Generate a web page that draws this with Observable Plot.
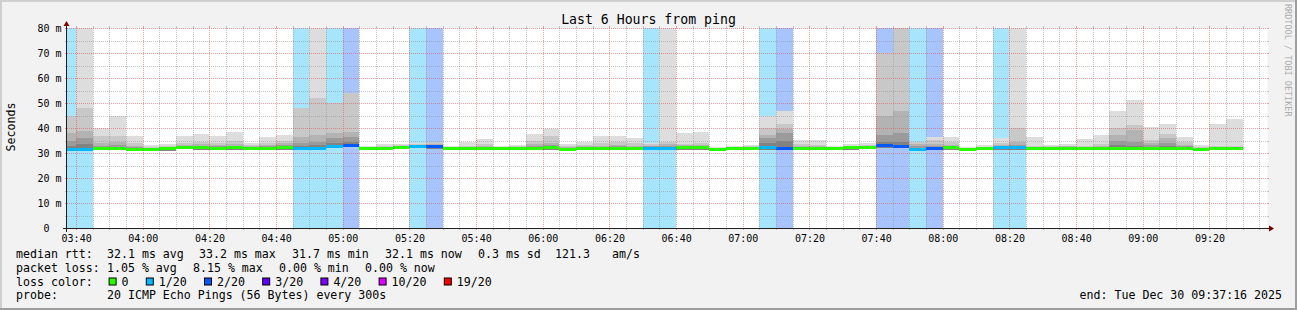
<!DOCTYPE html>
<html><head><meta charset="utf-8">
<script src="https://cdn.jsdelivr.net/npm/d3@7"></script>
<script src="https://cdn.jsdelivr.net/npm/@observablehq/plot@0.6"></script>
<style>
html,body{margin:0;padding:0;background:#f2f2f2;}
#wrap{position:relative;width:1297px;height:310px;background:#f2f2f2;overflow:hidden;}
#wrap svg{position:absolute;left:0;top:0;}
</style></head><body>
<div id="wrap"></div>
<script>
// ---------- data ----------
const barEnd = ["03:40","03:45","03:50","03:55","04:00","04:05","04:10","04:15","04:20","04:25","04:30","04:35","04:40","04:45","04:50","04:55","05:00","05:05","05:10","05:15","05:20","05:25","05:30","05:35","05:40","05:45","05:50","05:55","06:00","06:05","06:10","06:15","06:20","06:25","06:30","06:35","06:40","06:45","06:50","06:55","07:00","07:05","07:10","07:15","07:20","07:25","07:30","07:35","07:40","07:45","07:50","07:55","08:00","08:05","08:10","08:15","08:20","08:25","08:30","08:35","08:40","08:45","08:50","08:55","09:00","09:05","09:10","09:15","09:20","09:25","09:30"];
const median = [31.7,31.8,32.0,32.1,31.8,31.7,31.9,32.4,32.3,32.2,32.3,32.2,32.2,32.3,32.0,32.0,32.8,33.2,32.0,32.1,32.5,32.8,32.7,32.0,32.0,32.1,32.0,32.0,32.2,32.3,31.8,32.0,32.1,32.1,32.0,32.2,32.2,32.3,32.3,31.7,32.0,32.1,32.3,32.1,32.2,32.2,32.1,32.3,32.6,33.1,32.9,31.7,32.2,32.3,31.8,32.0,32.3,32.3,32.0,32.2,32.2,32.1,32.1,32.1,32.1,32.1,32.1,32.1,31.8,32.1,32.1];
const loss = [1,1,0,0,0,0,0,0,0,0,0,0,0,0,1,1,1,2,0,0,0,1,2,0,0,0,0,0,0,0,0,0,0,0,0,1,1,0,0,0,0,0,1,2,0,0,0,0,0,2,2,1,2,0,0,0,1,1,0,0,0,0,0,0,0,0,0,0,0,0,0];
const smokeLow = [30.8,30.9,31.1,31.2,30.9,30.8,31.0,31.5,31.4,31.3,31.4,31.3,31.3,31.4,31.1,31.1,31.9,32.3,31.1,31.2,31.6,31.9,31.8,31.1,31.1,31.2,31.1,31.1,31.3,31.4,30.9,31.1,31.2,31.2,31.1,31.3,31.3,31.4,31.4,30.8,31.1,31.2,31.4,31.2,31.3,31.3,31.2,31.4,31.7,32.2,32.0,30.8,31.3,31.4,30.9,31.1,31.4,31.4,31.1,31.3,31.3,31.2,31.2,31.2,31.2,31.2,31.2,31.2,30.8,31.2,31.2];
const smoke0 = [45,80,40,45,37,33.2,33.6,37,37.6,36.8,38.4,34.1,36.5,37.3,48,80,50,54,33,33.5,33.8,34,34.5,32.8,34.5,35.5,33,33.2,37.5,39.5,33.5,34.5,37,36.8,36.1,34.1,80,37.9,38.4,32.4,32.9,33.2,44.8,46.8,35.2,35.2,33,33.5,33.9,70,80,34.5,36.3,36.5,32.5,33.1,36.1,80,36.5,33.2,33.6,35.6,37.2,46.8,51.2,40.4,41.6,36.5,33.2,41.6,43.7];
const smoke1 = [45,48,37,37,34,32.6,33,34,34.5,34.2,35,33.2,33.9,35,48,52,50,54,32.6,32.9,33.2,33.6,34.5,32.5,33,33.5,32.6,32.7,35,37,32.8,33.2,34,34.5,34,33.5,34.5,33.6,34,32.2,32.5,32.7,39.9,41.6,33.5,33.3,32.6,33,33.3,70,80,34.5,35.2,34.5,32.2,32.6,34.1,39.9,32.9,32.8,33,32.9,33.6,39.9,41.2,35.2,37.6,34.5,32.5,32.9,32.9];
const smoke2 = [38,39,34,34.5,33,32.2,32.6,33.2,33.5,33.2,33.6,32.8,33.2,33.9,36.5,37.2,38.1,38.5,32.4,32.5,32.9,33.3,33.8,32.3,32.6,32.8,32.3,32.4,33.5,34,32.4,32.7,33,33.3,33,33,33.5,33.2,33.2,32.0,32.3,32.4,37.2,39.6,32.9,32.8,32.4,32.7,33,44.9,47,33.6,33.6,33.2,32,32.3,33.2,34.5,32.5,32.5,32.7,32.5,32.9,37.2,39.2,34.2,35.9,33.3,32.2,32.6,32.6];
const smoke3 = [35,36,33,33.2,32.3,32.0,32.3,32.9,33,32.8,33,32.5,32.8,33.2,34,34.5,35.9,36.5,32.2,32.3,32.7,33.1,33.3,32.2,32.3,32.5,32.2,32.2,33,33.2,32.2,32.4,32.6,32.8,32.6,32.7,33,32.9,32.9,31.9,32.2,32.3,35.9,37.9,32.6,32.5,32.3,32.5,32.8,37.2,38,32.8,33,32.8,31.9,32.2,32.8,33.3,32.3,32.4,32.5,32.3,32.5,35,34.5,33.2,34.1,32.8,32,32.4,32.4];
const smoke4 = [33,33.5,32.5,32.6,32,31.9,32.1,32.7,32.7,32.5,32.7,32.4,32.5,32.8,33,33.2,34,34.5,32.1,32.2,32.6,33,33,32.1,32.2,32.3,32.1,32.1,32.6,32.8,32,32.2,32.3,32.4,32.3,32.5,32.6,32.6,32.6,31.8,32.1,32.2,34.1,35,32.4,32.4,32.2,32.4,32.7,34.5,34.5,32.2,32.6,32.5,31.9,32.1,32.5,32.7,32.2,32.3,32.3,32.2,32.3,33.3,33,32.6,33,32.4,31.9,32.3,32.3];
const yTicks = [0,10,20,30,40,50,60,70,80];
const yTickLabels = ["0","10 m","20 m","30 m","40 m","50 m","60 m","70 m","80 m"];
const xTickLabels = ["03:40","04:00","04:20","04:40","05:00","05:20","05:40","06:00","06:20","06:40","07:00","07:20","07:40","08:00","08:20","08:40","09:00","09:20"];
const lossSteps = [0,1,2,3,4,10,19];
const lossStepLabels = ["0","1/20","2/20","3/20","4/20","10/20","19/20"];
const lossColors = ["#26ff00","#00b8ff","#0059ff","#5e00ff","#7e00ff","#dd00ff","#ff0000"];
const lossBgColors = ["none","#a6e5fc","#a7c4fc","#c9a6ff","#d4a6ff","#f2a6ff","#ffa6a6"];
const smokeColors = ["#dddddd","#c8c8c8","#b3b3b3","#9b9b9b","#828282"];
const statLines = [
  [["median rtt:",16],["32.1 ms avg",107],["33.2 ms max",199],["31.7 ms min",292],["32.1 ms now",385],["0.3 ms sd",478],["121.3",555],["am/s",612]],
  [["packet loss:",16],["1.05 % avg",107],["8.15 % max",193],["0.00 % min",279],["0.00 % now",365]],
  [["loss color:",16]],
  [["probe:",16],["20 ICMP Echo Pings (56 Bytes) every 300s",107]]
];
const titleText = "Last 6 Hours from ping";
const yLabelText = "Seconds";
const endText = "end: Tue Dec 30 09:37:16 2025";
const watermark = "RRDTOOL / TOBI OETIKER";

// ---------- build ----------
const W = 1297, H = 246;
const T0 = new Date(Date.UTC(2025,11,30,3,37,16)), T1 = new Date(Date.UTC(2025,11,30,9,37,16));
const toDate = s => { const [h,m] = s.split(":").map(Number); return new Date(Date.UTC(2025,11,30,h,m)); };
const rows = barEnd.map((s,i) => {
  const e = toDate(s);
  return {x1: new Date(Math.max(+e - 300000, +T0)), x2: e, med: median[i], loss: loss[i],
    lo: smokeLow[i], s0: smoke0[i], s1: smoke1[i], s2: smoke2[i], s3: smoke3[i], s4: smoke4[i]};
});
const colorOf = l => lossColors[lossSteps.indexOf(l)];
const bgOf = l => lossBgColors[lossSteps.indexOf(l)];
const gridTimes = d3.utcMinute.every(5).range(T0, T1);
const isMajor = t => t.getUTCMinutes() % 20 === 0;
const gridCol = "rgba(143,143,143,0.5)", mgridCol = "rgba(222,79,79,0.55)";

// grid (drawn over the data, as rrdtool does), axis lines, ticks and arrows
function decor(index, scales, values, dims) {
  const {width, height, marginLeft, marginRight, marginTop, marginBottom} = dims;
  const X0 = marginLeft, X1 = width - marginRight, Y0 = height - marginBottom, Y1 = marginTop;
  const g = d3.create("svg:g").attr("shape-rendering","crispEdges");
  for (const t of gridTimes) {
    const x = Math.round(scales.x(t)) + 0.5, c = isMajor(t) ? mgridCol : gridCol;
    g.append("line").attr("x1",x).attr("x2",x).attr("y1",Y1).attr("y2",Y0).attr("stroke",c).attr("stroke-dasharray","1,1");
    g.append("line").attr("x1",x).attr("x2",x).attr("y1",Y1-2).attr("y2",Y1).attr("stroke",c);
    g.append("line").attr("x1",x).attr("x2",x).attr("y1",Y0).attr("y2",Y0+2).attr("stroke",c);
  }
  for (const v of d3.range(5, 81, 5)) {
    const y = Math.round(scales.y(v)) + 0.5, c = v % 10 === 0 ? mgridCol : gridCol;
    g.append("line").attr("x1",X0).attr("x2",X1).attr("y1",y).attr("y2",y).attr("stroke",c).attr("stroke-dasharray","1,1");
    g.append("line").attr("x1",X0-2).attr("x2",X0).attr("y1",y).attr("y2",y).attr("stroke",c);
    g.append("line").attr("x1",X1).attr("x2",X1+2).attr("y1",y).attr("y2",y).attr("stroke",c);
  }
  g.append("line").attr("x1",X0-4).attr("x2",X1+4).attr("y1",Y0+0.5).attr("y2",Y0+0.5).attr("stroke","#202020");
  g.append("line").attr("x1",X0-0.5).attr("x2",X0-0.5).attr("y1",Y0+4).attr("y2",Y1-4).attr("stroke","#202020");
  g.append("path").attr("d",`M${X1+2},${Y0-2.5}L${X1+2},${Y0+3.5}L${X1+7},${Y0+0.5}Z`).attr("fill","#800000").attr("shape-rendering","auto");
  g.append("path").attr("d",`M${X0-3.5},${Y1-2}L${X0+2.5},${Y1-2}L${X0-0.5},${Y1-7}Z`).attr("fill","#800000").attr("shape-rendering","auto");
  return g.node();
}

const smokeKeys = ["s0","s1","s2","s3","s4"];
const chart = Plot.plot({
  width: W, height: H,
  marginLeft: 67, marginRight: 30, marginTop: 28, marginBottom: 18,
  x: {type: "utc", domain: [T0, T1], axis: null},
  y: {domain: [0, 80], axis: null},
  color: {type: "identity"},
  style: {background: "transparent", fontFamily: "DejaVu Sans Mono", fontSize: "10px", color: "#000", overflow: "visible"},
  marks: [
    Plot.frame({fill: "white", stroke: "none"}),
    Plot.rect(rows.filter(d => d.loss > 0), {x1: "x1", x2: "x2", y1: () => 0, y2: () => 80, fill: d => bgOf(d.loss), shapeRendering: "crispEdges"}),
    ...smokeKeys.map((k, i) => Plot.rect(rows, {x1: "x1", x2: "x2", y1: "lo", y2: k, fill: smokeColors[i], clip: true, shapeRendering: "crispEdges"})),
    Plot.ruleY(rows, {x1: "x1", x2: "x2", y: "med", stroke: d => colorOf(d.loss), strokeWidth: 3, shapeRendering: "crispEdges"}),
    Plot.text(xTickLabels, {x: s => toDate(s), y: () => 0, dy: 10, text: d => d, fill: "#000", fontSize: 10, fontFamily: "DejaVu Sans Mono"}),
    Plot.text(yTicks, {y: d => d, frameAnchor: "left", dx: -6, textAnchor: "end", fill: "#000", fontSize: 10, fontFamily: "DejaVu Sans Mono",
      text: (d, i) => yTickLabels[i].includes(" ") ? yTickLabels[i] : yTickLabels[i] + "\u00a0\u00a0"}),
    decor
  ]
});
const wrap = document.getElementById("wrap");
wrap.appendChild(chart);

// ---------- title, labels and legend ----------
const ov = d3.select(wrap).append("svg").attr("width", W).attr("height", 310)
  .attr("font-family", "DejaVu Sans Mono").style("pointer-events", "none");
ov.append("rect").attr("x",0).attr("y",0).attr("width",W).attr("height",2).attr("fill","#cfcfcf");
ov.append("rect").attr("x",0).attr("y",0).attr("width",2).attr("height",310).attr("fill","#cfcfcf");
ov.append("rect").attr("x",W-2).attr("y",0).attr("width",2).attr("height",310).attr("fill","#9e9e9e");
ov.append("rect").attr("x",0).attr("y",308).attr("width",W).attr("height",2).attr("fill","#9e9e9e");
ov.append("text").attr("x", 648.5).attr("y", 24.3).attr("text-anchor","middle").attr("font-size", 13.2).text(titleText);
ov.append("text").attr("transform","translate(14.8,127) rotate(-90)").attr("text-anchor","middle").attr("font-size", 11.6).text(yLabelText);
ov.append("text").attr("transform","translate(1284.5,4) rotate(90)").attr("font-size", 8.5).attr("fill","#acacac").text(watermark);
const baselines = [257.7, 271.7, 285.7, 299.2];
statLines.forEach((line, r) => {
  for (const [s, x] of line) ov.append("text").attr("x", x).attr("y", baselines[r]).attr("font-size", 11.6).style("white-space","pre").text(s);
});
let lx = 108.6;
lossStepLabels.forEach((lab, i) => {
  ov.append("rect").attr("x", lx + 0.5).attr("y", baselines[2] - 7.7).attr("width", 7).attr("height", 7)
    .attr("fill", lossColors[i]).attr("stroke", "#000").attr("stroke-width", 1);
  ov.append("text").attr("x", lx + 13).attr("y", baselines[2]).attr("font-size", 11.6).text(lab);
  lx = lx + 13 + lab.length * 7 + 17.2;
});
ov.append("text").attr("x", 1282).attr("y", baselines[3]).attr("text-anchor","end").attr("font-size", 11.6).text(endText);
</script>
</body></html>
